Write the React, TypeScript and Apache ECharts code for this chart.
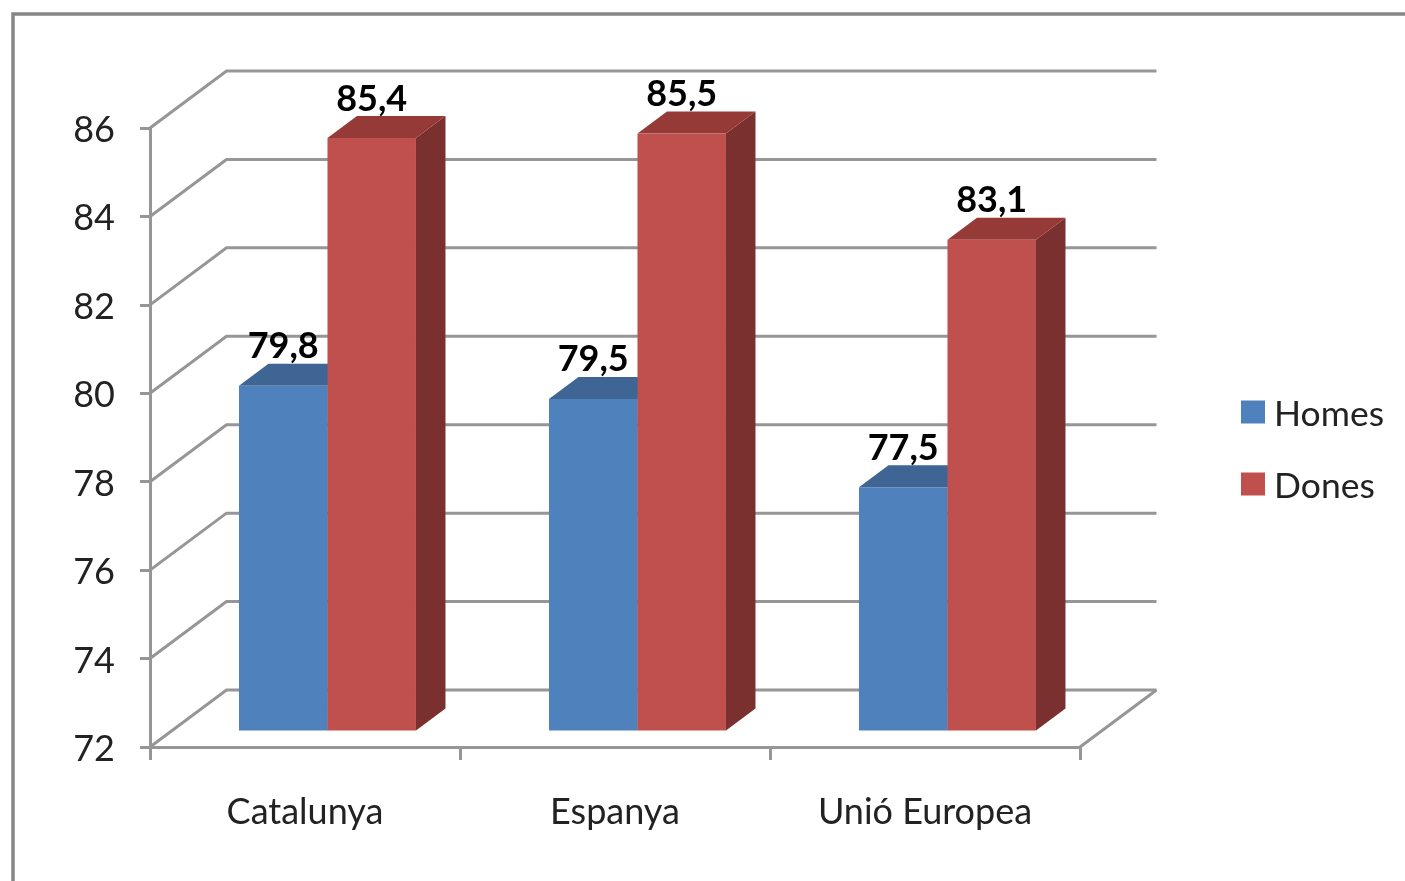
import React, { useEffect, useRef } from "react";
import * as echarts from "echarts";

const categories = ["Catalunya", "Espanya", "Unió Europea"];
const homes = [79.8, 79.5, 77.5];
const dones = [85.4, 85.5, 83.1];
const yTicks = [72, 74, 76, 78, 80, 82, 84, 86];

const GREY = "#969696";
const FONT = "Lato";
const WALL_DX = 76.5;
const WALL_DY = 57;
const BAR_DX = 29.5;
const BAR_DY = 22;
const PLANE_DY = 16.5;
const PLANE_START = 0.287;
const BAR_BAND = 0.2855;

function barSeries(name: string, values: number[], slot: number, front: string, top: string, side: string) {
  return {
    name,
    type: "custom",
    z: 3,
    itemStyle: { color: front },
    data: values.map((v, i) => [i, v]),
    encode: { x: 0, y: 1 },
    renderItem: (params: any, api: any) => {
      const idx = api.value(0);
      const value = api.value(1);
      const band = api.size([1, 0])[0];
      const left = params.coordSys.x + band * idx + band * PLANE_START + slot * band * BAR_BAND;
      const w = band * BAR_BAND;
      const yTop = api.coord([idx, value])[1] - PLANE_DY;
      const yBase = api.coord([idx, 72])[1] - PLANE_DY;
      const r = left + w;
      return {
        type: "group",
        children: [
          {
            type: "polygon",
            shape: { points: [[r, yTop], [r + BAR_DX, yTop - BAR_DY], [r + BAR_DX, yBase - BAR_DY], [r, yBase]] },
            style: { fill: side },
          },
          {
            type: "polygon",
            shape: { points: [[left, yTop], [left + BAR_DX, yTop - BAR_DY], [r + BAR_DX, yTop - BAR_DY], [r, yTop]] },
            style: { fill: top },
          },
          { type: "rect", shape: { x: left, y: yTop, width: w, height: yBase - yTop }, style: { fill: front } },
          {
            type: "text",
            z2: 10,
            style: {
              text: value.toFixed(1).replace(".", ","),
              x: left + w / 2,
              y: yTop - 41.5,
              align: "center",
              verticalAlign: "middle",
              fontFamily: FONT,
              fontSize: 36,
              fontWeight: "bold",
              fill: "#000000",
            },
          },
        ],
      };
    },
  };
}

export default function App() {
  const ref = useRef<HTMLDivElement>(null);
  useEffect(() => {
    document.body.style.margin = "0";
    const chart = echarts.init(ref.current!, undefined, { renderer: "svg" });
    chart.setOption({
      animation: false,
      backgroundColor: "#ffffff",
      graphic: [
        {
          type: "rect",
          silent: true,
          shape: { x: 13, y: 14, width: 1500, height: 1000 },
          style: { fill: "none", stroke: "#868686", lineWidth: 3.5 },
        },
      ],
      legend: {
        data: ["Homes", "Dones"],
        orient: "vertical",
        left: 1241,
        top: 394,
        padding: 0,
        itemWidth: 24,
        itemHeight: 23,
        itemGap: 36,
        icon: "rect",
        textStyle: { fontFamily: FONT, fontSize: 35.5, color: "#222222", padding: [0, 0, 0, 4] },
      },
      grid: { left: 150, right: 325, top: 128, bottom: 134, containLabel: false },
      xAxis: {
        type: "category",
        data: categories,
        axisLine: { lineStyle: { color: GREY, width: 3 } },
        axisTick: { show: true, length: 13, lineStyle: { color: GREY, width: 3 } },
        axisLabel: { fontFamily: FONT, fontSize: 36, color: "#222222", margin: 45 },
        splitLine: { show: false },
      },
      yAxis: {
        type: "value",
        min: 72,
        max: 86,
        interval: 2,
        axisLine: { show: true, lineStyle: { color: GREY, width: 3 } },
        axisTick: { show: true, length: 10, lineStyle: { color: GREY, width: 3 } },
        axisLabel: { fontFamily: FONT, fontSize: 36, color: "#222222", margin: 35, padding: [9, 0, 0, 0] },
        splitLine: { show: false },
      },
      series: [
        {
          type: "custom",
          name: "walls",
          silent: true,
          z: 1,
          data: yTicks.map((t) => [0, t]),
          encode: { x: 0, y: 1 },
          renderItem: (params: any, api: any) => {
            const v = api.value(1);
            const y = api.coord([0, v])[1];
            const x0 = params.coordSys.x;
            const x1 = x0 + params.coordSys.width;
            const children: any[] = [
              {
                type: "polyline",
                shape: { points: [[x0, y], [x0 + WALL_DX, y - WALL_DY], [x1 + WALL_DX, y - WALL_DY]] },
                style: { fill: "none", stroke: GREY, lineWidth: 3 },
              },
            ];
            if (v === yTicks[0]) {
              children.push({
                type: "line",
                shape: { x1, y1: y, x2: x1 + WALL_DX, y2: y - WALL_DY },
                style: { stroke: GREY, lineWidth: 3 },
              });
            }
            return { type: "group", children };
          },
        },
        barSeries("Homes", homes, 0, "#4F81BD", "#3E6594", "#30507A"),
        barSeries("Dones", dones, 1, "#C0504D", "#953A37", "#7A302E"),
      ],
    });
    return () => chart.dispose();
  }, []);
  return (
    <div
      ref={ref}
      style={{ position: "absolute", left: 0, top: 0, width: 1405, height: 881, filter: "blur(0.6px)" }}
    />
  );
}
